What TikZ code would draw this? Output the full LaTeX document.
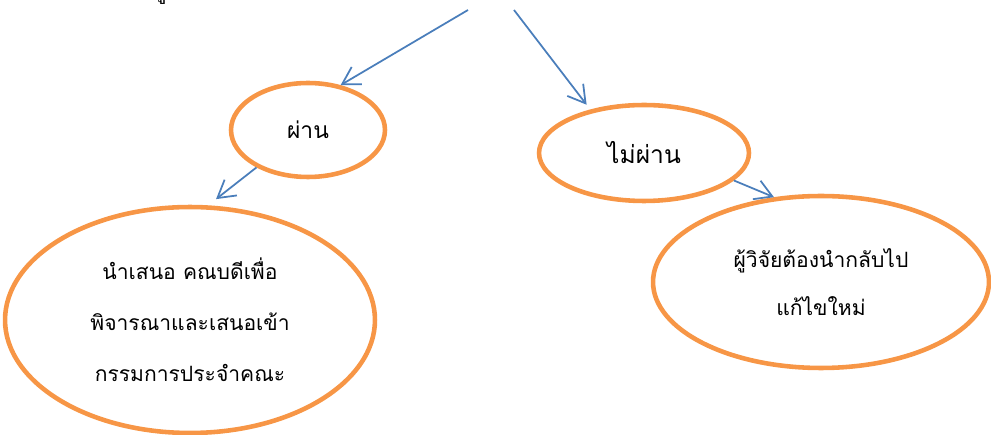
\documentclass[tikz,border=0pt]{standalone}
\usepackage{fontspec}
\newfontfamily\thaifont[Script=Thai]{Loma}
\usepackage{xcolor}
\usetikzlibrary{shapes.geometric}
\usetikzlibrary{arrows.meta}
\definecolor{bubbleorange}{HTML}{F79646}
\definecolor{flowblue}{HTML}{4A7EBB}

\begin{document}
\begin{tikzpicture}[x=0.02cm,y=-0.02cm,
  bubble/.style={ellipse,draw=bubbleorange,line width=2.6pt,inner sep=0pt,align=center,
    font=\thaifont\fontsize{12}{29}\selectfont},
  flow/.style={draw=flowblue,line width=1pt,-{Straight Barb[length=3.4mm,width=4mm]}}]
  \useasboundingbox (0,0) rectangle (991,435);
  % cut-off text at the top
  \node[font=\thaifont\fontsize{13}{15}\selectfont,anchor=base,inner sep=0pt] (cut) at (160,-1) {ผู};
  \coordinate (srcL) at (468,10);
  \coordinate (srcR) at (514,10);
  \node[bubble,minimum width=3.08cm,minimum height=1.88cm,font=\thaifont\fontsize{13}{15}\selectfont] (pass) at (308,130) {ผ่าน};
  \node[bubble,minimum width=4.2cm,minimum height=1.92cm,font=\thaifont\fontsize{14}{16}\selectfont] (fail) at (644,153) {ไม่ผ่าน};
  \node[bubble,minimum width=7.4cm,minimum height=4.52cm] (present) at (190,320) {นำเสนอ คณบดีเพื่อ\\พิจารณาและเสนอเข้า\\กรรมการประจำคณะ};
  \node[bubble,minimum width=6.72cm,minimum height=3.44cm,font=\thaifont\fontsize{12}{27}\selectfont] (redo) at (821,282) {ผู้วิจัยต้องนำกลับไป\\แก้ไขใหม่};
  \draw[flow] (srcL) -- (pass.54);
  \draw[flow,shorten >=0.12cm] (srcR) -- (fail.141);
  \draw[flow,shorten >=0.2cm] (pass.216) -- (present.81);
  \draw[flow] (fail.-17) -- (redo.119);
\end{tikzpicture}
\end{document}
